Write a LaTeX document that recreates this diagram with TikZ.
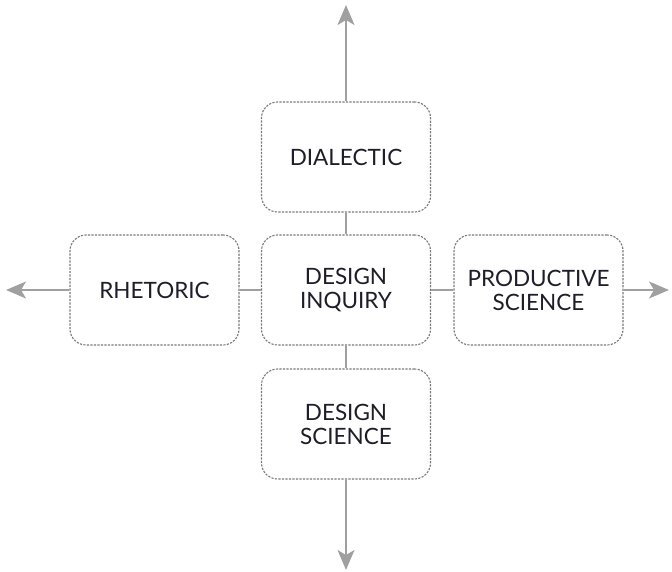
\documentclass[tikz,border=0pt]{standalone}
\usepackage{fontspec}
\setmainfont{Lato}
\usetikzlibrary{arrows.meta}
\definecolor{linegray}{HTML}{A0A0A0}
\definecolor{boxgray}{HTML}{7A7A7A}
\definecolor{txt}{HTML}{1E1E2A}
\begin{document}
\begin{tikzpicture}[x=1pt,y=-1pt,
  box/.style={draw=boxgray, line width=1.1pt, dash pattern=on 2.2pt off 1.3pt,
    rounded corners=16pt, minimum width=169pt, minimum height=110pt,
    align=center, text=txt, font=\fontsize{22.5}{24}\selectfont, inner sep=0pt, fill=white},
  link/.style={draw=linegray, line width=2pt},
  arr/.style={link, -{Stealth[length=20pt, width=17pt, inset=5pt]}}]
\useasboundingbox (0,0) rectangle (672,572);
\node[box] (inq) at (346,290) {DESIGN\\INQUIRY};
\node[box] (dia) at (346,157) {DIALECTIC};
\node[box] (sci) at (346,424) {DESIGN\\SCIENCE};
\node[box] (rhe) at (154.5,290) {RHETORIC};
\node[box] (pro) at (538.5,290) {PRODUCTIVE\\SCIENCE};
\coordinate (up) at (346,5);
\coordinate (down) at (346,570);
\coordinate (left) at (6,290);
\coordinate (right) at (669,290);
\draw[link] (dia.south) -- (inq.north);
\draw[link] (inq.south) -- (sci.north);
\draw[link] (rhe.east) -- (inq.west);
\draw[link] (inq.east) -- (pro.west);
\draw[arr] (dia.north) -- (up);
\draw[arr] (sci.south) -- (down);
\draw[arr] (rhe.west) -- (left);
\draw[arr] (pro.east) -- (right);
\end{tikzpicture}
\end{document}
